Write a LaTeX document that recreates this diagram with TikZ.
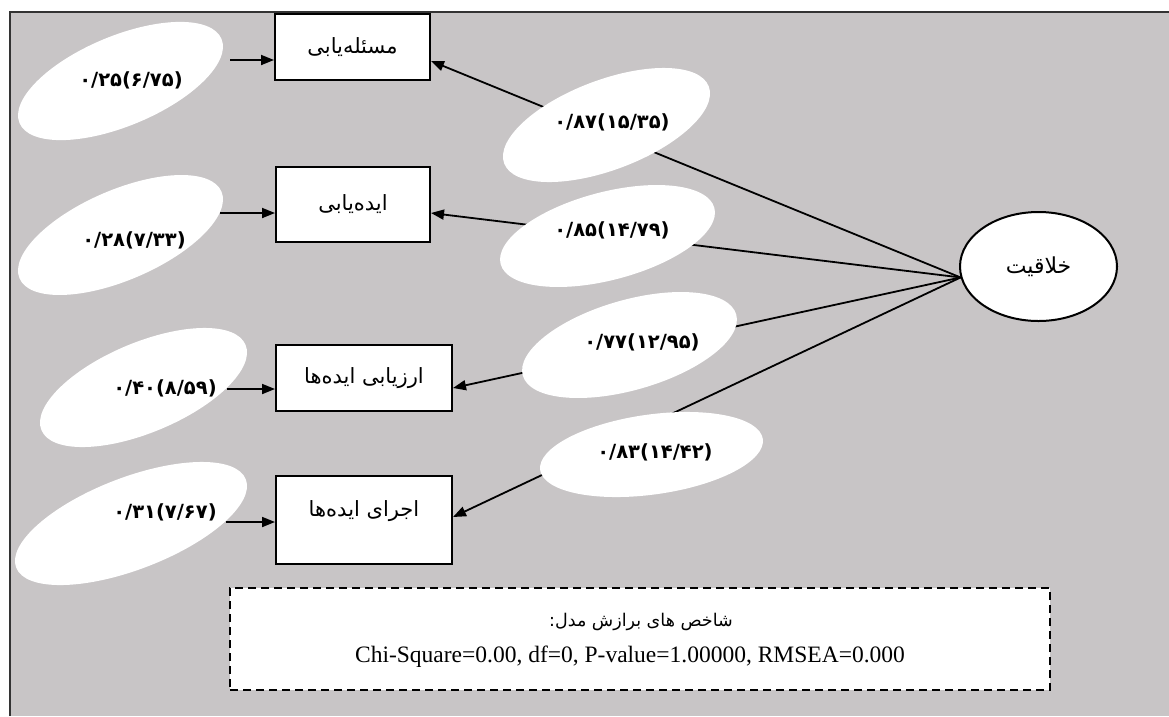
\documentclass[tikz,border=0pt]{standalone}
\usepackage{fontspec}
\setmainfont{Liberation Serif}
\newfontfamily\fa[Script=Arabic]{DejaVu Sans}
\newfontfamily\fanum{DejaVu Sans Bold}
\TeXXeTstate=1
\usetikzlibrary{shapes.geometric,arrows.meta}
\definecolor{bggray}{RGB}{200,197,198}
\tikzset{
  boxnode/.style={draw=black, line width=2pt, fill=white, inner sep=0pt,
    font=\fa\fontsize{21}{23}\selectfont},
  ellnode/.style={ellipse, fill=white, inner sep=0pt},
  numtext/.style={inner sep=0pt, font=\fanum\fontsize{19.5}{21}\selectfont},
  conn/.style={line width=1.8pt, -{Triangle[length=13pt,width=10pt]}},
}
\begin{document}
\begin{tikzpicture}[x=1pt,y=-1pt]
\useasboundingbox (0,0) rectangle (1169,716);
\fill[bggray] (10,12) rectangle (1169,716);
\draw[line width=2pt, black!80] (10,716) -- (10,12) -- (1169,12);

% observed variables
\node[boxnode, minimum width=155pt, minimum height=66pt] (b1) at (352.5,47) {\beginR مسئله‌یابی\endR};
\node[boxnode, minimum width=154pt, minimum height=75pt] (b2) at (353,204.5) {\beginR ایده‌یابی\endR};
\node[boxnode, minimum width=176pt, minimum height=66pt] (b3) at (364,378) {\beginR ارزیابی ایده‌ها\endR};
\node[boxnode, minimum width=176pt, minimum height=88pt, text depth=22pt] (b4) at (364,520) {\beginR اجرای ایده‌ها\endR};

% latent variable
\node[ellipse, draw=black, line width=2pt, fill=white, inner sep=0pt,
  minimum width=157pt, minimum height=109pt, font=\fa\fontsize{22}{24}\selectfont]
  (lat) at (1038.5,266.5) {\beginR خلاقیت\endR};

% paths from latent to indicators
\draw[conn] (lat.188) -- ([yshift=-14pt]b1.east);
\draw[conn] (lat.188) -- ([yshift=-8.5pt]b2.east);
\draw[conn] (lat.188) -- ([yshift=-10pt]b3.east);
\draw[conn] (lat.188) -- ([yshift=3pt]b4.east);

% loading labels
\node[ellnode, rotate=20.6, minimum width=218.6pt, minimum height=90pt] (m1) at (606.5,125) {};
\node[ellnode, rotate=14.7, minimum width=221pt, minimum height=88pt] (m2) at (607.5,236) {};
\node[ellnode, rotate=16, minimum width=222pt, minimum height=90pt] (m3) at (629.5,345) {};
\node[ellnode, rotate=7.9, minimum width=224.8pt, minimum height=80pt] (m4) at (651.5,454.5) {};
\node[numtext] (m1t) at (612,122) {۰/۸۷(۱۵/۳۵)};
\node[numtext] (m2t) at (612,230) {۰/۸۵(۱۴/۷۹)};
\node[numtext] (m3t) at (642,342) {۰/۷۷(۱۲/۹۵)};
\node[numtext] (m4t) at (655,452) {۰/۸۳(۱۴/۴۲)};

% error terms
\node[ellnode, rotate=22.6, minimum width=218.8pt, minimum height=90pt] (e1) at (120.5,81) {};
\node[ellnode, rotate=23.3, minimum width=219.8pt, minimum height=90pt] (e2) at (120.5,235) {};
\node[ellnode, rotate=22.7, minimum width=221.2pt, minimum height=90pt] (e3) at (143.5,387.5) {};
\node[ellnode, rotate=21, minimum width=246pt, minimum height=92pt] (e4) at (131,523.5) {};
\node[numtext] (e1t) at (131,80) {۰/۲۵(۶/۷۵)};
\node[numtext] (e2t) at (134,240) {۰/۲۸(۷/۳۳)};
\node[numtext] (e3t) at (165,388) {۰/۴۰(۸/۵۹)};
\node[numtext] (e4t) at (165,512) {۰/۳۱(۷/۶۷)};

\coordinate (s1) at (230,60);
\coordinate (s2) at (220,213);
\coordinate (s3) at (227,389);
\coordinate (s4) at (226,522);
\draw[conn] (s1) -- (s1 -| b1.west);
\draw[conn] (s2) -- (s2 -| b2.west);
\draw[conn] (s3) -- (s3 -| b3.west);
\draw[conn] (s4) -- (s4 -| b4.west);

% fit indices
\node[draw=black, dash pattern=on 8pt off 5pt, line width=2pt, fill=white,
  minimum width=820pt, minimum height=102pt, inner sep=0pt] (fit) at (640,639) {};
\node[inner sep=0pt, font=\fa\fontsize{17.5}{19}\selectfont] (fit1) at (641,622) {:\beginR شاخص های برازش مدل\endR};
\node[inner sep=0pt, font=\fontsize{23.5}{26}\selectfont] (fit2) at (630,657) {Chi-Square=0.00, df=0, P-value=1.00000, RMSEA=0.000};
\end{tikzpicture}
\end{document}
